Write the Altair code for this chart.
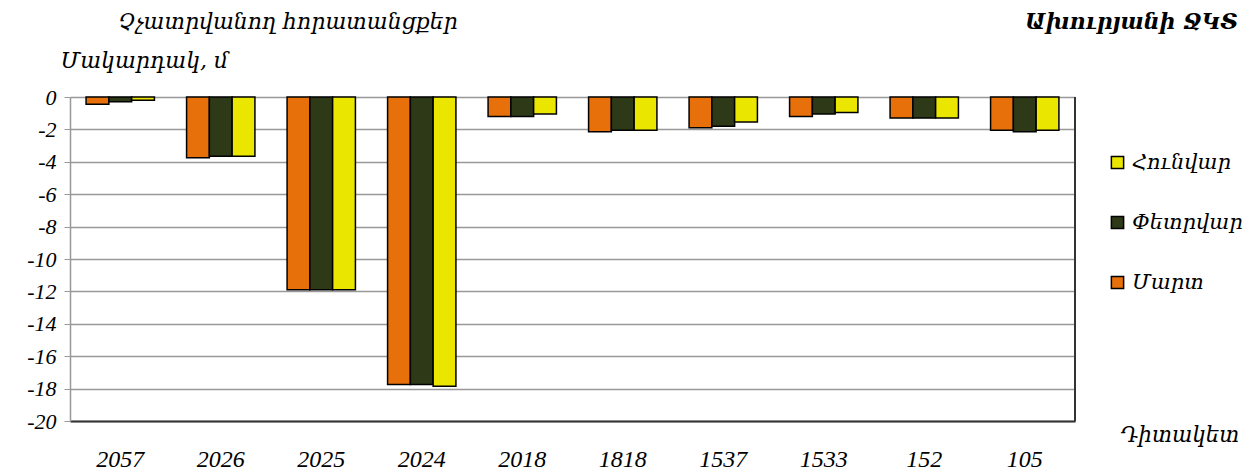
import altair as alt
import pandas as pd

stations = ["2057", "2026", "2025", "2024", "2018", "1818", "1537", "1533", "152", "105"]
mart = [-0.45, -3.75, -11.9, -17.75, -1.2, -2.15, -1.9, -1.2, -1.3, -2.05]
petr = [-0.3, -3.65, -11.9, -17.75, -1.2, -2.05, -1.8, -1.05, -1.3, -2.15]
hunv = [-0.2, -3.65, -11.9, -17.85, -1.05, -2.05, -1.55, -0.95, -1.3, -2.05]
months = ["Մարտ", "Փետրվար", "Հունվար"]
colors = {"Հունվար": "#EBE600", "Փետրվար": "#2E3918", "Մարտ": "#E8700A"}

rows = []
for i, s in enumerate(stations):
    for m, vals in zip(months, [mart, petr, hunv]):
        rows.append({"station": s, "month": m, "value": vals[i]})
df = pd.DataFrame(rows)

FONT = "Liberation Serif, DejaVu Serif"
AFONT = "DejaVu Serif"

xscale = alt.Scale(paddingInner=0.32, paddingOuter=0.16)
xaxis = alt.Axis(title="Դիտակետ", titleFont=AFONT, titleFontStyle="italic",
                 titleFontWeight="normal", titleFontSize=21.5,
                 titleAngle=0, titleX=1050, titleY=14,
                 titleAlign="left", titleBaseline="middle",
                 labelFont=FONT, labelFontStyle="italic", labelFontSize=24,
                 labelAngle=0, labelPadding=26, ticks=False,
                 domainColor="#333", domainWidth=2, labelColor="black")

bars = alt.Chart(df).mark_bar(stroke="black", strokeWidth=1.5).encode(
    x=alt.X("station:N", sort=stations, scale=xscale, axis=xaxis),
    xOffset=alt.XOffset("month:N", sort=months, scale=alt.Scale(paddingInner=0)),
    y=alt.Y("value:Q", scale=alt.Scale(domain=[-20, 0], nice=False),
            axis=alt.Axis(values=list(range(-20, 1, 2)), title="Մակարդակ, մ",
                          labelExpr="toString(datum.value)", labelOverlap=False,
                          titleFont=AFONT, titleFontStyle="italic", titleFontWeight="normal",
                          titleFontSize=22, titleAngle=0, titleX=-10, titleY=-37,
                          titleAlign="left", titleBaseline="middle",
                          labelFont=FONT, labelFontStyle="italic", labelFontSize=22,
                          labelPadding=8, tickSize=6, tickColor="#999",
                          domainColor="#999", domainWidth=1.5,
                          gridColor="#999", gridWidth=1.5, labelColor="black")),
    color=alt.Color("month:N",
                    scale=alt.Scale(domain=["Հունվար", "Փետրվար", "Մարտ"],
                                    range=[colors["Հունվար"], colors["Փետրվար"], colors["Մարտ"]]),
                    legend=alt.Legend(title=None, orient="none", legendX=1037, legendY=55,
                                      symbolType="square", symbolSize=150,
                                      symbolStrokeColor="black", symbolStrokeWidth=1.5,
                                      labelFont=AFONT, labelFontStyle="italic",
                                      labelFontSize=21, rowPadding=38, labelColor="black")),
)

right_border = alt.Chart(pd.DataFrame({"a": [0]})).mark_rule(color="#333", strokeWidth=2).encode(
    x=alt.value(1005), y=alt.value(0), y2=alt.value(324))

corner = alt.Chart(pd.DataFrame({"t": ["Ախուրյանի ՋԿՏ"]})).mark_text(
    font=AFONT, fontStyle="italic", fontWeight="bold", fontSize=22,
    align="right", baseline="middle", color="black").encode(
    text="t:N", x=alt.value(1168), y=alt.value(-75))

title = alt.Chart(pd.DataFrame({"t": ["Չչատրվանող հորատանցքեր"]})).mark_text(
    font=AFONT, fontStyle="italic", fontSize=22,
    align="left", baseline="middle", color="black").encode(
    text="t:N", x=alt.value(48), y=alt.value(-75))

chart = alt.layer(bars, right_border, corner, title).properties(
    width=1005, height=324,
    autosize=alt.AutoSizeParams(type="none"),
    padding={"left": 62, "top": 89, "right": 168, "bottom": 70},
).configure_view(stroke=None)

chart.save("out.html", embed_options={"renderer": "svg", "actions": False})
